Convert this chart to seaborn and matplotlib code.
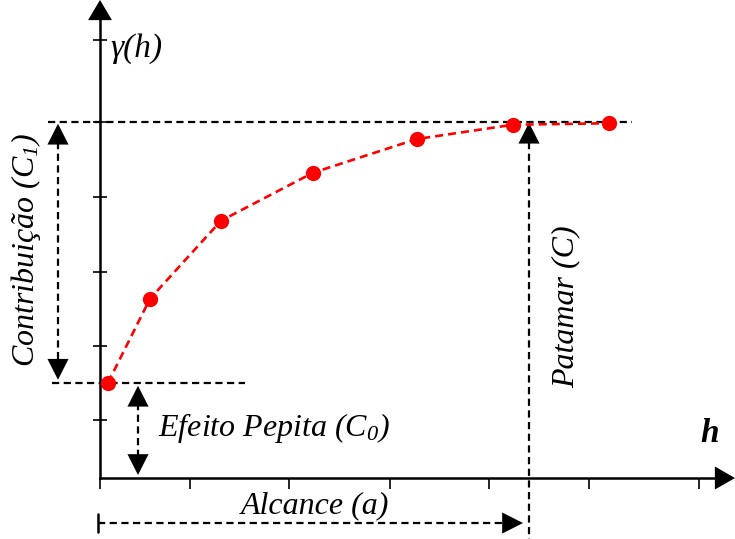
import matplotlib
matplotlib.use("Agg")
import matplotlib.pyplot as plt
import seaborn as sns
import pandas as pd

sns.set_theme(style="white")
plt.rcParams["font.family"] = ["Liberation Serif", "DejaVu Serif"]
plt.rcParams["mathtext.fontset"] = "custom"
plt.rcParams["mathtext.rm"] = "Liberation Serif:italic"
plt.rcParams["mathtext.it"] = "Liberation Serif:italic"
plt.rcParams["lines.scale_dashes"] = False

# Experimental semivariogram points
lag = [0.08, 0.50, 1.21, 2.13, 3.17, 4.13, 5.09]
gamma = [1.27, 2.39, 3.43, 4.07, 4.52, 4.71, 4.73]

# Model parameters
nugget = 1.27   # C0
sill = 4.75     # C = C0 + C1
range_a = 4.29  # a

x_ticks = [0, 0.9, 1.89, 2.9, 3.89, 4.89, 5.99]
y_ticks = [0.77, 1.76, 2.75, 3.75, 4.75, 5.84]

label_gamma = "γ(h)"
label_h = "h"
label_c1 = r"Contribuição (C$_1$)"
label_c0 = r"Efeito Pepita (C$_0$)"
label_c = "Patamar (C)"
label_a = "Alcance (a)"

df = pd.DataFrame({"h": lag, "gamma": gamma})

fig = plt.figure(figsize=(7.35, 5.39), dpi=100)
ax = fig.add_axes([0, 0, 1, 1])
ax.set_xlim(-1.0, 6.35)
ax.set_ylim(-0.813, 6.373)

PX = 0.01       # one pixel in h units
PY = 1 / 75.0   # one pixel in gamma units

# axes through the origin
for side in ("top", "right"):
    ax.spines[side].set_visible(False)
ax.spines["left"].set_position(("data", 0))
ax.spines["bottom"].set_position(("data", 0))
ax.spines["left"].set_bounds(0, 6.1)
ax.spines["bottom"].set_bounds(0, 6.2)
for side in ("left", "bottom"):
    ax.spines[side].set_color("black")
    ax.spines[side].set_linewidth(1.8)
ax.set_xticks(x_ticks)
ax.set_yticks(y_ticks)
ax.set_xticklabels([])
ax.set_yticklabels([])
ax.tick_params(axis="y", direction="inout", length=10, width=1.2, color="black", left=True)
ax.tick_params(axis="x", direction="out", length=8, width=1.2, color="black", bottom=True)


def head(tip, dx, dy, length=15, width=7.6):
    """Filled arrowhead ending at tip, pointing along (dx, dy)."""
    ax.annotate("", xy=tip, xytext=(tip[0] - dx, tip[1] - dy),
                arrowprops=dict(arrowstyle=f"-|>,head_length={length},head_width={width}",
                                mutation_scale=1, shrinkA=0, shrinkB=0,
                                color="black", lw=0))


# axis arrowheads
head((0, 478 / 75.0), 0, 30 * PY, length=14.5, width=8.6)
head((6.35, 0), 30 * PX, 0, length=14.5, width=8.3)

dash = dict(color="black", lw=1.6, dashes=(5.2, 3.2))

# sill and nugget reference lines
ax.plot([-0.52, 5.32], [sill, sill], **dash)
ax.plot([-0.48, 1.45], [nugget, nugget], **dash)

# contribution C1 (double arrow)
xc1 = -0.42
ax.plot([xc1, xc1], [sill - 20 * PY, nugget + 20 * PY], **dash)
head((xc1, sill - 2 * PY), 0, 30 * PY)
head((xc1, nugget + 3 * PY), 0, -30 * PY)

# nugget effect C0 (double arrow)
xc0 = 0.38
ax.plot([xc0, xc0], [nugget - 20 * PY, 0.04 + 20 * PY], **dash)
head((xc0, nugget - 3 * PY), 0, 30 * PY)
head((xc0, 0.04), 0, -30 * PY)

# sill C at the range
ax.plot([range_a, range_a], [sill - 20 * PY, -0.9], **dash)
head((range_a, sill - 1 * PY), 0, 30 * PY)

# range a
ya = -0.6
ax.plot([-0.02, range_a - 0.06 - 20 * PX], [ya, ya], **dash)
ax.plot([-0.02, -0.02], [ya + 9 * PY, ya - 9 * PY], color="black", lw=1.8)
head((range_a - 0.06, ya), 30 * PX, 0)

# experimental semivariogram
sns.lineplot(data=df, x="h", y="gamma", ax=ax, color="red", lw=1.9,
             dashes=False, linestyle=(0, (5.8, 3.6)), marker="o",
             markersize=11, markeredgewidth=0, zorder=5)
ax.set_xlabel("")
ax.set_ylabel("")

txt = dict(style="italic", color="black")
ax.text(0.10, 5.73, label_gamma, fontsize=24, va="center", ha="left", **txt)
ax.text(6.0, 0.48, label_h, fontsize=24, va="baseline", ha="left", weight="bold", **txt)
ax.text(-0.74, 3.04, label_c1, fontsize=23, rotation=90, va="center", ha="center", **txt)
ax.text(4.66, 2.28, label_c, fontsize=23, rotation=90, va="center", ha="center", **txt)
ax.text(0.58, 0.56, label_c0, fontsize=23, va="baseline", ha="left", **txt)
ax.text(2.15, -0.467, label_a, fontsize=23, va="baseline", ha="center", **txt)

fig.savefig("out.png", dpi=100)
